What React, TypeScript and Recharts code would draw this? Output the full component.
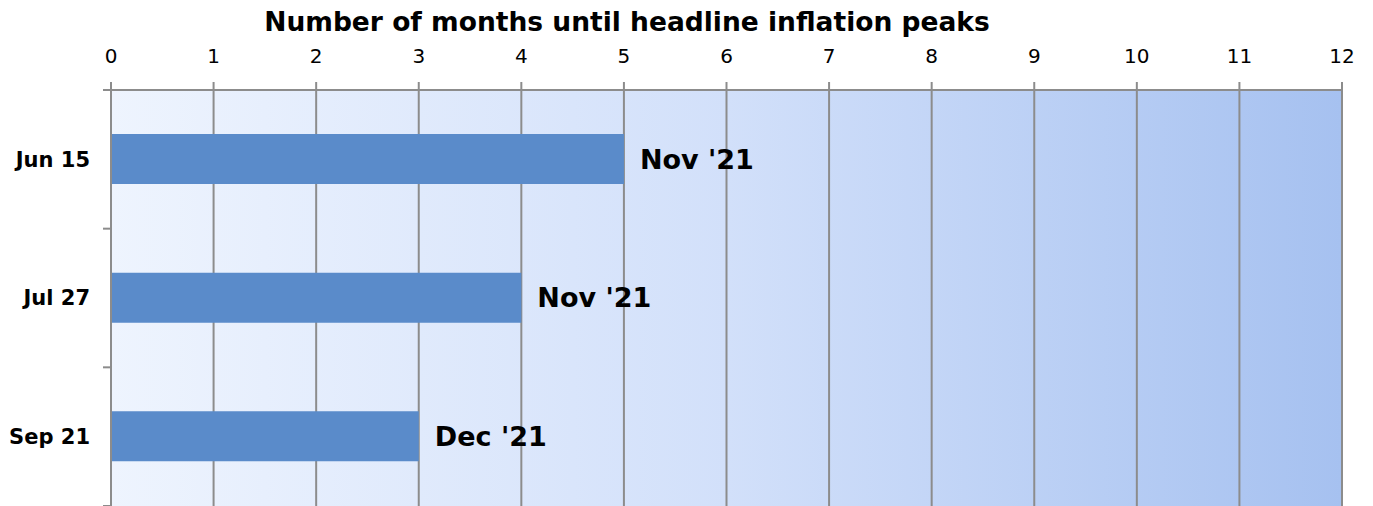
import React from "react";
import {
  BarChart,
  Bar,
  XAxis,
  YAxis,
  CartesianGrid,
  LabelList,
} from "recharts";

const forecastDates = ["Jun 15", "Jul 27", "Sep 21"];
const monthsToPeak = [5, 4, 3];
const peakMonths = ["Nov '21", "Nov '21", "Dec '21"];
const monthTicks = [0, 1, 2, 3, 4, 5, 6, 7, 8, 9, 10, 11, 12];

const data = forecastDates.map((date, i) => ({
  date,
  months: monthsToPeak[i],
  peak: peakMonths[i],
}));

const FONT = "'DejaVu Sans', Verdana, sans-serif";
const GRID = "#8c8c8c";

// category label plus the small tick marks that sit on the band edges
function DateTick(props: any) {
  const { x, y, payload, index, visibleTicksCount, height } = props;
  const half = height && visibleTicksCount ? height / visibleTicksCount / 2 : payload.offset || 0;
  const isLast = index === visibleTicksCount - 1;
  return (
    <g>
      <line x1={x - 8} x2={x} y1={y - half} y2={y - half} stroke={GRID} strokeWidth={2} />
      {isLast && <line x1={x - 8} x2={x} y1={y + half} y2={y + half} stroke={GRID} strokeWidth={2} />}
      <text
        x={x - 21}
        y={y}
        dy="0.35em"
        textAnchor="end"
        fill="#000"
        fontSize={21}
        fontWeight="bold"
        fontFamily={FONT}
      >
        {payload.value}
      </text>
    </g>
  );
}

export default function App() {
  return (
    <div style={{ position: "absolute", left: 0, top: 0, width: 1373, height: 506, background: "#fff", fontFamily: FONT }}>
      <div
        style={{
          position: "absolute",
          left: 0,
          top: 5,
          width: 1254,
          textAlign: "center",
          fontWeight: "bold",
          fontSize: 26.5,
          lineHeight: "34px",
          color: "#000",
        }}
      >
        Number of months until headline inflation peaks
      </div>
      <BarChart
        width={1373}
        height={506}
        data={data}
        layout="vertical"
        margin={{ top: 60, right: 31, left: 0, bottom: 0 }}
      >
        <defs>
          <linearGradient id="bg" x1="0" y1="0" x2="1" y2="0">
            <stop offset="0%" stopColor="#eef4fe" />
            <stop offset="50%" stopColor="#d2e0fa" />
            <stop offset="100%" stopColor="#a6c1f0" />
          </linearGradient>
        </defs>
        <CartesianGrid
          horizontal={false}
          stroke={GRID}
          strokeWidth={2}
          fill="url(#bg)"
          fillOpacity={1}
        />
        <XAxis
          type="number"
          orientation="top"
          height={30}
          domain={[0, 12]}
          ticks={monthTicks}
          interval={0}
          stroke={GRID}
          strokeWidth={2}
          tickSize={8}
          tickMargin={19}
          tick={{ fill: "#000", fontSize: 20, fontFamily: FONT }}
        />
        <YAxis
          type="category"
          dataKey="date"
          width={111}
          stroke={GRID}
          strokeWidth={2}
          tickLine={false}
          tickSize={0}
          tickMargin={0}
          interval={0}
          tick={<DateTick />}
        />
        <Bar dataKey="months" fill="#5a8bca" barSize={50} isAnimationActive={false}>
          <LabelList
            dataKey="peak"
            position="right"
            offset={16}
            fill="#000"
            fontSize={27}
            fontWeight="bold"
            fontFamily={FONT}
          />
        </Bar>
      </BarChart>
    </div>
  );
}
